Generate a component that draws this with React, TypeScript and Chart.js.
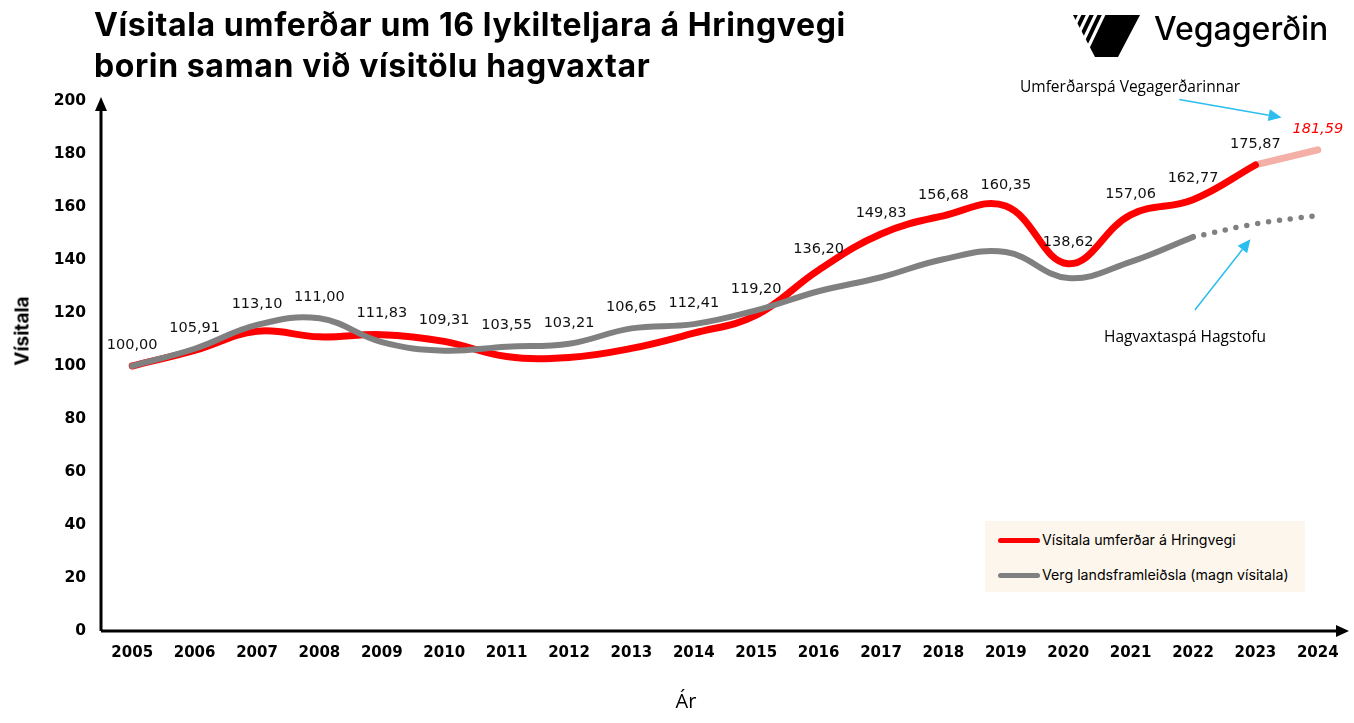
import React, { useEffect, useRef } from "react";
import { Chart, registerables } from "chart.js";

Chart.register(...registerables);

const years = ["2005", "2006", "2007", "2008", "2009", "2010", "2011", "2012", "2013", "2014", "2015", "2016", "2017", "2018", "2019", "2020", "2021", "2022", "2023", "2024"];

const trafficIndex: (number | null)[] = [100.0, 105.91, 113.1, 111.0, 111.83, 109.31, 103.55, 103.21, 106.65, 112.41, 119.2, 136.2, 149.83, 156.68, 160.35, 138.62, 157.06, 162.77, 175.87, null];
const trafficForecast: (number | null)[] = [null, null, null, null, null, null, null, null, null, null, null, null, null, null, null, null, null, null, 175.87, 181.59];
const gdpIndex: (number | null)[] = [100.0, 106.5, 115.5, 118.0, 109.0, 105.8, 107.3, 108.4, 114.2, 115.8, 121.0, 128.2, 133.5, 140.3, 143.0, 133.2, 139.3, 148.7, null, null];
const gdpForecast: (number | null)[] = [null, null, null, null, null, null, null, null, null, null, null, null, null, null, null, null, null, 148.7, 153.6, 156.8];

const seriesNames = ["Vísitala umferðar á Hringvegi", "Verg landsframleiðsla (magn vísitala)"];
const seriesColors = ["#FF0000", "#808080"];

const RED = "#FF0000";
const RED_LIGHT = "#F4B0A6";
const GREY = "#808080";
const ARROW = "#2BBDEE";

// annotation arrows in data space: [category index, value]
const arrowTraffic = { from: [16.78, 200.6], to: [18.42, 193.8] };
const arrowGdp = { from: [17.03, 121.1], to: [17.92, 147.8] };

const fmt = (v: number) => v.toFixed(2).replace(".", ",");

const axesPlugin = {
  id: "axesArrows",
  beforeDatasetsDraw(chart: any) {
    const { ctx, chartArea } = chart;
    const { left, right, top, bottom } = chartArea;
    ctx.save();
    ctx.strokeStyle = "#000";
    ctx.fillStyle = "#000";
    ctx.lineWidth = 3;
    ctx.beginPath();
    ctx.moveTo(left, bottom);
    ctx.lineTo(left, top + 8);
    ctx.moveTo(left, bottom);
    ctx.lineTo(right - 10, bottom);
    ctx.stroke();
    ctx.beginPath();
    ctx.moveTo(left, top - 4);
    ctx.lineTo(left - 6, top + 10);
    ctx.lineTo(left + 6, top + 10);
    ctx.closePath();
    ctx.fill();
    ctx.beginPath();
    ctx.moveTo(right, bottom);
    ctx.lineTo(right - 13, bottom - 6);
    ctx.lineTo(right - 13, bottom + 6);
    ctx.closePath();
    ctx.fill();
    ctx.restore();
  },
};

function drawArrow(ctx: any, x1: number, y1: number, x2: number, y2: number) {
  const ang = Math.atan2(y2 - y1, x2 - x1);
  const head = 13;
  const half = 6;
  const bx = x2 - head * Math.cos(ang);
  const by = y2 - head * Math.sin(ang);
  ctx.beginPath();
  ctx.moveTo(x1, y1);
  ctx.lineTo(bx, by);
  ctx.stroke();
  ctx.beginPath();
  ctx.moveTo(x2, y2);
  ctx.lineTo(bx + half * Math.sin(ang), by - half * Math.cos(ang));
  ctx.lineTo(bx - half * Math.sin(ang), by + half * Math.cos(ang));
  ctx.closePath();
  ctx.fill();
}

const labelsPlugin = {
  id: "valueLabels",
  afterDatasetsDraw(chart: any) {
    const { ctx } = chart;
    const x = chart.scales.x;
    const y = chart.scales.y;
    ctx.save();
    ctx.textAlign = "center";
    ctx.textBaseline = "middle";
    years.forEach((_, i) => {
      const actual = trafficIndex[i];
      const fc = trafficForecast[i];
      const v = actual ?? fc;
      if (v == null) return;
      const isFc = actual == null;
      const g = gdpIndex[i] ?? gdpForecast[i];
      let topPx = y.getPixelForValue(v);
      if (g != null) topPx = Math.min(topPx, y.getPixelForValue(g));
      ctx.font = isFc ? 'italic 14.5px "DejaVu Sans"' : '14.5px "DejaVu Sans"';
      ctx.fillStyle = isFc ? RED : "#111111";
      ctx.fillText(fmt(v), x.getPixelForValue(i), topPx - 21);
    });
    ctx.strokeStyle = ARROW;
    ctx.fillStyle = ARROW;
    ctx.lineWidth = 1.5;
    [arrowTraffic, arrowGdp].forEach((a) => {
      drawArrow(
        ctx,
        x.getPixelForValue(a.from[0]),
        y.getPixelForValue(a.from[1]),
        x.getPixelForValue(a.to[0]),
        y.getPixelForValue(a.to[1])
      );
    });
    ctx.restore();
  },
};

const abs = (left: number, cy: number, extra: React.CSSProperties = {}): React.CSSProperties => ({
  position: "absolute",
  left,
  top: cy,
  transform: "translateY(-50%)",
  whiteSpace: "nowrap",
  lineHeight: 1,
  ...extra,
});

export default function App() {
  const canvasRef = useRef<HTMLCanvasElement>(null);

  useEffect(() => {
    const canvas = canvasRef.current;
    if (!canvas) return;
    const chart = new Chart(canvas, {
      type: "line",
      data: {
        labels: years,
        datasets: [
          {
            label: seriesNames[1],
            data: gdpIndex,
            borderColor: GREY,
            borderWidth: 6,
            tension: 0.4,
            pointRadius: 0,
            borderCapStyle: "round",
            fill: false,
          },
          {
            label: seriesNames[1] + " spá",
            data: gdpForecast,
            borderColor: GREY,
            borderWidth: 5.5,
            borderDash: [0, 11],
            borderCapStyle: "round",
            tension: 0.4,
            pointRadius: 0,
            fill: false,
          },
          {
            label: seriesNames[0],
            data: trafficIndex,
            borderColor: RED,
            borderWidth: 7,
            tension: 0.4,
            pointRadius: 0,
            borderCapStyle: "round",
            fill: false,
          },
          {
            label: seriesNames[0] + " spá",
            data: trafficForecast,
            borderColor: RED_LIGHT,
            borderWidth: 7,
            tension: 0.4,
            pointRadius: 0,
            borderCapStyle: "round",
            fill: false,
          },
        ],
      },
      options: {
        responsive: false,
        animation: false,
        layout: { padding: { left: 0, right: 5, top: 101, bottom: 0 } },
        plugins: {
          legend: { display: false },
          tooltip: { enabled: false },
          title: { display: false },
        },
        scales: {
          x: {
            offset: true,
            grid: { display: false, drawTicks: false },
            border: { display: false },
            ticks: {
              padding: 13,
              color: "#000",
              font: { family: "DejaVu Sans", weight: "bold", size: 15 },
              maxRotation: 0,
              autoSkip: false,
            },
            afterFit: (scale: any) => {
              scale.height = 92;
            },
          },
          y: {
            min: 0,
            max: 200,
            grid: { display: false, drawTicks: false },
            border: { display: false },
            ticks: {
              stepSize: 20,
              padding: 15,
              color: "#000",
              font: { family: "DejaVu Sans", weight: "bold", size: 15.5 },
            },
            afterFit: (scale: any) => {
              scale.width = 101;
            },
          },
        },
      },
      plugins: [axesPlugin, labelsPlugin],
    });
    return () => chart.destroy();
  }, []);

  const annoFont = '"Open Sans", "Liberation Sans", sans-serif';

  return (
    <div
      style={{
        position: "absolute",
        left: 0,
        top: 0,
        width: 1354,
        height: 723,
        background: "#ffffff",
        overflow: "hidden",
        fontFamily: "Inter, sans-serif",
        color: "#000",
      }}
    >
      <canvas ref={canvasRef} width={1354} height={723} style={{ position: "absolute", left: 0, top: 0 }} />

      <div style={abs(94, 25, { fontSize: 32, fontWeight: 700, letterSpacing: 0.6 })}>
        Vísitala umferðar um 16 lykilteljara á Hringvegi
      </div>
      <div style={abs(94, 66, { fontSize: 32, fontWeight: 700, letterSpacing: 0.6 })}>
        borin saman við vísitölu hagvaxtar
      </div>

      <svg style={{ position: "absolute", left: 1068, top: 12 }} width={76} height={48} viewBox="0 0 76 48">
        <polygon points="5,3 72,3 50,45 27,45" fill="#000" />
        {[13, 21, 29, 37].map((x0) => (
          <line key={x0} x1={x0} y1={0} x2={x0 - 22} y2={46} stroke="#fff" strokeWidth={3.2} />
        ))}
      </svg>
      <div style={abs(1154, 29, { fontSize: 32, fontWeight: 500, letterSpacing: 0 })}>Vegagerðin</div>

      <div
        style={{
          position: "absolute",
          left: 22,
          top: 331,
          transform: "translate(-50%, -50%) rotate(-90deg)",
          fontSize: 19,
          fontWeight: 700,
          whiteSpace: "nowrap",
          lineHeight: 1,
        }}
      >
        Vísitala
      </div>
      <div
        style={{
          position: "absolute",
          left: 686,
          top: 701,
          transform: "translate(-50%, -50%)",
          fontSize: 20,
          fontFamily: annoFont,
          whiteSpace: "nowrap",
          lineHeight: 1,
        }}
      >
        Ár
      </div>

      <div style={abs(1020, 87, { fontSize: 15.5, fontFamily: annoFont })}>Umferðarspá Vegagerðarinnar</div>
      <div style={abs(1104, 337, { fontSize: 15.5, fontFamily: annoFont })}>Hagvaxtaspá Hagstofu</div>

      <div
        style={{
          position: "absolute",
          left: 985,
          top: 521,
          width: 320,
          height: 71,
          background: "#FDF6EC",
        }}
      >
        {seriesNames.map((name, i) => (
          <div key={name}>
            <div
              style={{
                position: "absolute",
                left: 13,
                top: 19 + i * 35 - 2.5,
                width: 42,
                height: 5,
                borderRadius: 3,
                background: seriesColors[i],
              }}
            />
            <div style={abs(57, 19 + i * 35, { fontSize: 14.2 })}>{name}</div>
          </div>
        ))}
      </div>
    </div>
  );
}
